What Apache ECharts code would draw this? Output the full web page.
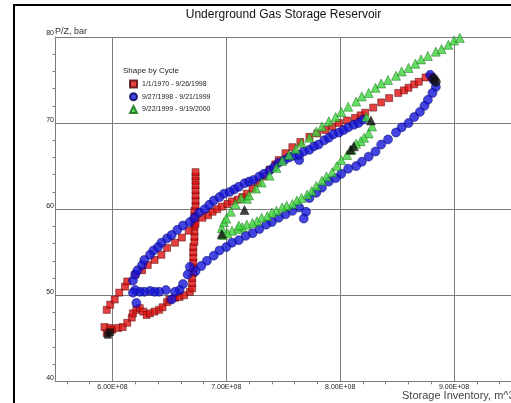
<!DOCTYPE html>
<html>
<head>
<meta charset="utf-8">
<script src="https://cdn.jsdelivr.net/npm/echarts@6/dist/echarts.min.js"></script>
<style>
  html, body { margin: 0; padding: 0; background: #fff; }
  #chart { width: 511px; height: 403px; }
</style>
</head>
<body>
<div id="chart"></div>
<script>
// cycle names (legend)
const cycleNames = ['1/1/1970 - 9/26/1998', '9/27/1998 - 9/21/1999', '9/22/1999 - 9/19/2000']

// storage inventory (m^3) and P/Z (bar)
const redInv = [
  5.93e8, 5.95e8, 5.98e8, 6.00e8, 6.05e8, 6.09e8, 6.13e8, 6.17e8, 6.18e8, 6.21e8, 6.24e8, 6.27e8, 6.30e8,
  6.33e8, 6.37e8, 6.41e8, 6.44e8, 6.48e8, 6.50e8, 6.55e8, 6.59e8, 6.63e8, 6.68e8,
  6.70e8, 6.70e8, 6.70e8, 6.71e8, 6.71e8, 6.71e8, 6.71e8, 6.71e8, 6.71e8, 6.72e8, 6.72e8, 6.72e8,
  6.72e8, 6.72e8, 6.72e8, 6.72e8, 6.73e8, 6.73e8, 6.73e8, 6.73e8, 6.73e8, 6.73e8, 6.73e8, 6.73e8,
  5.95e8, 5.98e8, 6.02e8, 6.06e8, 6.11e8, 6.13e8, 6.20e8, 6.26e8, 6.31e8, 6.37e8, 6.43e8, 6.48e8,
  6.55e8, 6.61e8, 6.67e8, 6.73e8, 6.79e8, 6.84e8, 6.88e8, 6.92e8, 6.96e8, 7.01e8, 7.05e8, 7.10e8,
  7.14e8, 7.18e8, 7.23e8, 7.28e8, 7.33e8,
  7.38e8, 7.43e8, 7.46e8, 7.52e8, 7.58e8, 7.65e8, 7.73e8, 7.80e8, 7.87e8, 7.93e8, 7.99e8, 8.06e8,
  8.13e8, 8.18e8, 8.22e8, 8.29e8, 8.36e8, 8.43e8, 8.51e8, 8.56e8, 8.60e8, 8.65e8, 8.69e8, 8.75e8, 8.80e8
]
const redPz = [
  46.3, 45.6, 46.2, 46.0, 46.2, 46.3, 46.8, 47.4, 47.9, 48.3, 48.5, 48.1, 47.7,
  47.9, 48.1, 48.3, 48.6, 49.2, 49.5, 49.7, 49.8, 50.0, 50.4,
  50.8, 51.4, 52.0, 52.6, 53.2, 53.8, 54.4, 55.0, 55.6, 56.2, 56.8, 57.4,
  58.0, 58.6, 59.2, 59.8, 60.4, 61.0, 61.6, 62.2, 62.8, 63.3, 63.8, 64.3,
  48.3, 48.9, 49.5, 50.3, 51.0, 51.6, 52.4, 52.9, 53.5, 54.1, 54.7, 55.5,
  56.1, 56.7, 57.5, 58.3, 59.0, 59.3, 59.7, 60.0, 60.3, 60.6, 60.9, 61.1,
  61.4, 61.8, 62.4, 63.1, 63.8,
  64.6, 65.2, 65.7, 66.5, 67.2, 67.8, 68.4, 68.8, 69.2, 69.6, 70.0, 70.3,
  70.6, 70.9, 71.2, 71.8, 72.4, 72.9, 73.5, 73.8, 74.1, 74.5, 74.8, 75.3, 75.4
]

const blueInv = [
  8.79e8, 8.82e8, 8.84e8, 8.81e8, 8.77e8, 8.74e8, 8.70e8, 8.65e8, 8.60e8, 8.54e8, 8.49e8, 8.42e8,
  8.36e8, 8.31e8, 8.25e8, 8.19e8, 8.14e8, 8.07e8, 8.01e8, 7.96e8, 7.90e8, 7.84e8, 7.79e8, 7.73e8,
  7.70e8, 7.68e8, 7.64e8, 7.58e8, 7.52e8, 7.46e8, 7.40e8, 7.35e8, 7.29e8, 7.23e8, 7.17e8, 7.11e8,
  7.05e8, 7.00e8, 6.94e8, 6.89e8, 6.83e8, 6.78e8, 6.73e8, 6.68e8, 6.66e8, 6.62e8,
  6.59e8, 6.55e8, 6.52e8, 6.47e8, 6.41e8, 6.37e8, 6.33e8, 6.28e8, 6.24e8, 6.20e8, 6.18e8, 6.21e8,
  6.18e8, 6.20e8, 6.22e8, 6.26e8, 6.28e8, 6.33e8, 6.36e8, 6.40e8, 6.43e8, 6.48e8, 6.52e8, 6.57e8,
  6.62e8, 6.68e8, 6.72e8, 6.76e8, 6.81e8, 6.85e8, 6.89e8, 6.94e8, 6.98e8, 7.03e8, 7.07e8, 7.11e8,
  7.16e8, 7.20e8, 7.24e8, 7.29e8, 7.33e8, 7.38e8, 7.42e8, 7.46e8, 7.51e8, 7.55e8, 7.59e8, 7.64e8,
  7.64e8, 7.68e8, 7.73e8, 7.77e8, 7.81e8, 7.86e8, 7.90e8, 7.94e8, 7.99e8, 8.03e8, 8.07e8, 8.12e8,
  8.16e8, 8.20e8
]
const bluePz = [
  75.6, 75.0, 74.2, 73.5, 72.7, 72.0, 71.3, 70.7, 70.0, 69.5, 68.9, 68.1,
  67.5, 66.7, 66.1, 65.5, 65.0, 64.7, 64.1, 63.6, 63.2, 62.5, 61.9, 61.3,
  59.7, 58.9, 60.2, 59.8, 59.4, 59.0, 58.5, 58.2, 57.7, 57.2, 56.9, 56.4,
  56.1, 55.6, 55.2, 54.6, 54.0, 53.4, 52.8, 53.3, 52.4, 51.3,
  50.6, 50.4, 49.5, 50.6, 50.4, 50.4, 50.5, 50.4, 50.4, 50.6, 50.3, 49.1,
  51.7, 52.4, 52.9, 53.5, 54.1, 54.7, 55.2, 55.6, 56.1, 56.6, 57.0, 57.6,
  58.1, 58.5, 59.0, 59.6, 60.0, 60.5, 61.0, 61.4, 61.8, 62.0, 62.3, 62.6,
  63.0, 63.2, 63.4, 63.8, 64.1, 64.5, 64.9, 65.4, 65.7, 66.0, 66.2, 65.7,
  66.3, 66.7, 66.9, 67.3, 67.5, 68.0, 68.3, 68.7, 68.9, 69.2, 69.5, 69.8,
  70.0, 70.4
]

const greenInv = [
  8.23e8, 8.28e8, 8.25e8, 8.21e8, 8.18e8, 8.14e8, 8.10e8, 8.06e8, 8.01e8, 7.97e8, 7.93e8, 7.88e8,
  7.84e8, 7.79e8, 7.75e8, 7.71e8, 7.66e8, 7.62e8, 7.58e8, 7.53e8, 7.49e8, 7.44e8, 7.40e8, 7.36e8,
  7.31e8, 7.27e8, 7.23e8, 7.18e8, 7.14e8, 7.10e8, 7.05e8, 7.01e8, 6.97e8,
  6.96e8, 6.98e8, 7.00e8, 7.04e8, 7.08e8, 7.11e8, 7.13e8, 7.18e8,
  7.20e8, 7.26e8, 7.31e8, 7.38e8, 7.44e8, 7.49e8, 7.55e8, 7.61e8, 7.66e8, 7.73e8, 7.79e8, 7.84e8,
  7.90e8, 7.96e8, 8.01e8, 8.07e8, 8.14e8, 8.19e8, 8.25e8, 8.31e8, 8.36e8, 8.42e8, 8.49e8, 8.54e8,
  8.60e8, 8.66e8, 8.71e8, 8.77e8, 8.84e8, 8.89e8, 8.95e8, 9.00e8, 9.05e8
]
const greenPz = [
  70.7, 69.6, 68.8, 68.3, 67.9, 67.6, 66.9, 66.3, 65.7, 65.0, 64.3, 63.8,
  63.3, 62.7, 62.1, 61.7, 61.3, 61.0, 60.6, 60.4, 60.2, 59.8, 59.6, 59.2,
  59.0, 58.6, 58.4, 58.2, 57.9, 57.7, 57.5, 57.2, 57.0,
  57.8, 58.5, 58.9, 59.7, 60.6, 58.1, 61.3, 61.2,
  61.6, 62.4, 63.1, 63.9, 64.8, 65.6, 66.3, 67.0, 67.7, 68.3, 69.0, 69.6,
  70.2, 70.7, 71.3, 71.9, 72.5, 73.1, 73.5, 74.1, 74.6, 75.0, 75.5, 76.0,
  76.4, 76.9, 77.4, 77.8, 78.3, 78.6, 79.1, 79.6, 79.9
]

// points drawn in black
const redDarkInv = [5.96e8, 5.98e8]
const redDarkPz = [45.4, 45.7]
const blueDarkInv = [8.82e8, 8.84e8]
const blueDarkPz = [75.2, 74.8]
const greenDarkInv = [8.27e8, 8.09e8, 8.12e8, 6.96e8, 7.16e8]
const greenDarkPz = [70.3, 66.9, 67.3, 57.1, 59.9]

const xMin = 5.5e8
const xMax = 9.5e8
const yMin = 40
const yMax = 80
const yStep = 10

const pairs = (xs, ys) => xs.map((x, i) => [x, ys[i]])

const chart = echarts.init(document.getElementById('chart'))

const font = '"Liberation Sans", Arial, sans-serif'
const gridColor = '#7c7c7c'

chart.setOption({
  animation: false,
  backgroundColor: '#fff',
  textStyle: { fontFamily: font },
  grid: { left: 55.5, top: 37, width: 457.6, height: 344.3, containLabel: false },
  legend: {
    data: cycleNames,
    orient: 'vertical',
    left: 129,
    top: 79.5,
    padding: 0,
    itemWidth: 7,
    itemHeight: 7,
    itemGap: 3.7,
    textStyle: { fontSize: 7, lineHeight: 8, color: '#222', fontFamily: font }
  },
  xAxis: {
    type: 'value',
    min: xMin,
    max: xMax,
    splitNumber: 4,
    axisLine: { show: true, lineStyle: { color: gridColor, width: 1 } },
    axisTick: { show: false },
    minorTick: { show: true, splitNumber: 5, length: 3, lineStyle: { color: gridColor } },
    axisLabel: {
      fontSize: 7,
      color: '#222',
      margin: 2,
      showMinLabel: false,
      showMaxLabel: false,
      formatter: (v) => (v / 1e8).toFixed(2) + 'E+08'
    },
    splitLine: { show: true, lineStyle: { color: gridColor, width: 1 } }
  },
  yAxis: {
    type: 'value',
    min: yMin,
    max: yMax,
    interval: yStep,
    axisLine: { show: true, lineStyle: { color: gridColor, width: 1 } },
    axisTick: { show: false },
    minorTick: { show: true, splitNumber: 5, length: 3, lineStyle: { color: gridColor } },
    axisLabel: { fontSize: 7, color: '#222', margin: 1.5, verticalAlign: 'bottom' },
    splitLine: { show: true, lineStyle: { color: gridColor, width: 1 } }
  },
  graphic: [
    {
      type: 'rect',
      shape: { x: 14, y: 5, width: 600, height: 500 },
      style: { fill: 'none', stroke: '#000', lineWidth: 2 },
      silent: true
    },
    {
      type: 'text',
      x: 283.5,
      y: 15,
      style: {
        text: 'Underground Gas Storage Reservoir',
        font: '12px ' + font,
        fill: '#111',
        textAlign: 'center',
        textVerticalAlign: 'middle'
      }
    },
    {
      type: 'text',
      x: 55,
      y: 31.5,
      style: { text: 'P/Z, bar', font: '9px ' + font, fill: '#333', textVerticalAlign: 'middle' }
    },
    {
      type: 'text',
      x: 402,
      y: 396,
      style: { text: 'Storage Inventory, m^3', font: '11px ' + font, fill: '#444', textVerticalAlign: 'middle' }
    },
    {
      type: 'text',
      x: 123,
      y: 71,
      style: { text: 'Shape by Cycle', font: '8px ' + font, fill: '#222', textVerticalAlign: 'middle' }
    }
  ],
  series: [
    {
      name: cycleNames[0],
      type: 'scatter',
      symbol: 'rect',
      symbolSize: 7,
      itemStyle: { color: '#e01212', borderColor: '#4a0000', borderWidth: 0.6 },
      data: pairs(redInv, redPz)
    },
    {
      name: 'red-dark',
      type: 'scatter',
      symbol: 'rect',
      symbolSize: 7,
      itemStyle: { color: '#111', borderColor: '#000', borderWidth: 0.5 },
      data: pairs(redDarkInv, redDarkPz)
    },
    {
      name: cycleNames[1],
      type: 'scatter',
      symbol: 'circle',
      symbolSize: 9,
      itemStyle: { color: '#1414d8', borderColor: '#00005a', borderWidth: 0.6 },
      data: pairs(blueInv, bluePz)
    },
    {
      name: 'blue-dark',
      type: 'scatter',
      symbol: 'circle',
      symbolSize: 9,
      itemStyle: { color: '#111', borderColor: '#000', borderWidth: 0.5 },
      data: pairs(blueDarkInv, blueDarkPz)
    },
    {
      name: cycleNames[2],
      type: 'scatter',
      symbol: 'triangle',
      symbolSize: 9,
      itemStyle: { color: '#3fd43f', borderColor: '#0d6a0d', borderWidth: 0.6 },
      data: pairs(greenInv, greenPz)
    },
    {
      name: 'green-dark',
      type: 'scatter',
      symbol: 'triangle',
      symbolSize: 9,
      itemStyle: { color: '#111', borderColor: '#000', borderWidth: 0.5 },
      data: pairs(greenDarkInv, greenDarkPz)
    }
  ]
})
</script>
</body>
</html>
